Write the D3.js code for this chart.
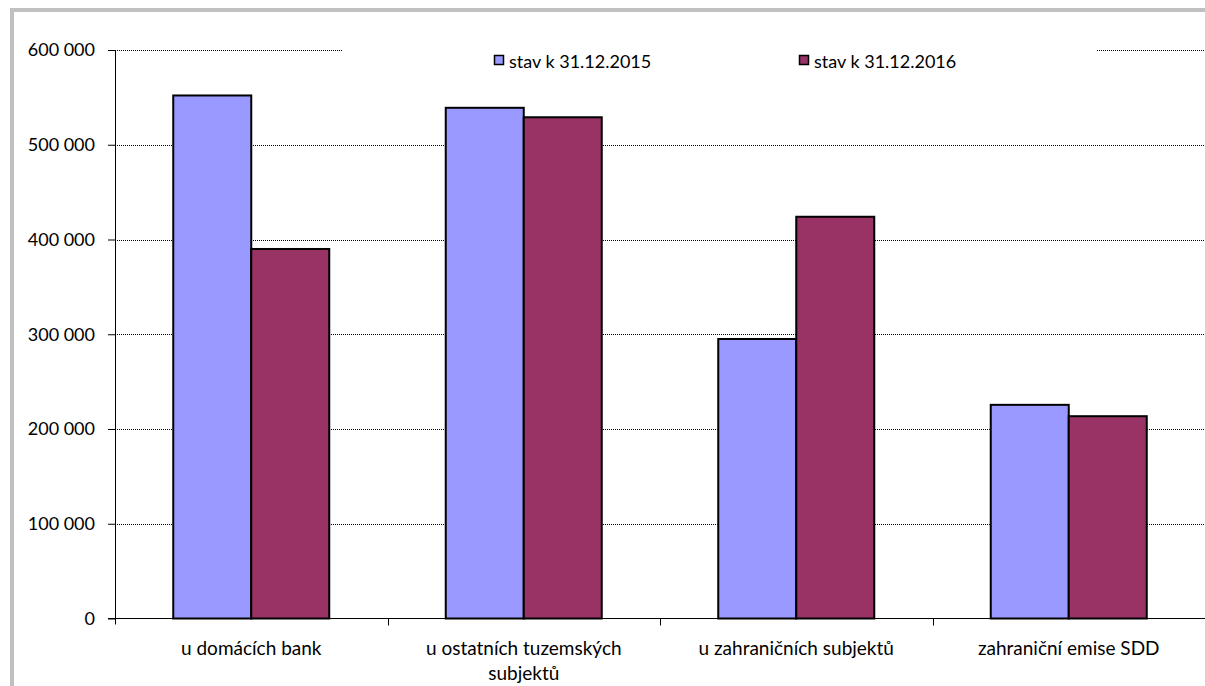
<!DOCTYPE html>
<html>
<head>
<meta charset="utf-8">
<script src="https://cdn.jsdelivr.net/npm/d3@7"></script>
<style>
  html, body { margin: 0; padding: 0; background: #fff; }
  svg { display: block; }
  text { font-family: Lato, "Noto Sans", sans-serif; fill: #000; }
</style>
</head>
<body>
<svg id="chart" width="1205" height="686"></svg>
<script>
// ---- data ----
const categories = ["u domácích bank", "u ostatních tuzemských subjektů", "u zahraničních subjektů", "zahraniční emise SDD"];
const seriesNames = ["stav k 31.12.2015", "stav k 31.12.2016"];
const values2015 = [552000, 539000, 295000, 225500];
const values2016 = [390000, 529000, 424000, 213500];
const yTicks = [0, 100000, 200000, 300000, 400000, 500000, 600000];
const seriesColors = ["#9999FF", "#993366"];

// ---- layout ----
const W = 1205, H = 686;
const plot = { left: 115, right: 1205, top: 50, bottom: 618.5 };
const fontSize = 19;
const numFontSize = 18;

const svg = d3.select("#chart");

// frame
svg.append("rect")
  .attr("x", 12).attr("y", 10)
  .attr("width", W + 50).attr("height", H + 50)
  .attr("fill", "none").attr("stroke", "#c0c0c0").attr("stroke-width", 4);

const rows = categories.map((c, i) => ({ cat: c, vals: [values2015[i], values2016[i]] }));

const p = 0.4275;
const x0 = d3.scaleBand().domain(categories).range([plot.left, plot.right])
  .paddingInner(p).paddingOuter(p / 2);
const x1 = d3.scaleBand().domain([0, 1]).range([0, x0.bandwidth()]).padding(0);
const y = d3.scaleLinear().domain([0, 600000]).range([plot.bottom, plot.top]);

const locale = d3.formatLocale({ decimal: ",", thousands: "\u00a0", grouping: [3], currency: ["", ""] });
const fmt = locale.format(",d");

// gridlines
svg.append("g").selectAll("line")
  .data(yTicks.filter(t => t > 0))
  .join("line")
  .attr("x1", plot.left).attr("x2", plot.right)
  .attr("y1", d => Math.round(y(d)) + 0.5).attr("y2", d => Math.round(y(d)) + 0.5)
  .attr("stroke", "#000").attr("stroke-width", 1).attr("stroke-dasharray", "1,1");

// legend background (covers top gridline in middle)
const legend = svg.append("g");
legend.append("rect")
  .attr("x", 342).attr("y", 36).attr("width", 1097 - 342).attr("height", 48)
  .attr("fill", "#fff");
const legendX = [494, 799];
seriesNames.forEach((name, i) => {
  legend.append("rect")
    .attr("x", legendX[i] + 0.5).attr("y", 56 - 0.5)
    .attr("width", 9).attr("height", 9)
    .attr("fill", seriesColors[i]).attr("stroke", "#000").attr("stroke-width", 1.5);
  legend.append("text")
    .attr("x", legendX[i] + 15).attr("y", 60.5)
    .attr("dominant-baseline", "central")
    .attr("font-size", numFontSize)
    .text(name);
});

// bars
const groups = svg.append("g").selectAll("g")
  .data(rows).join("g")
  .attr("transform", d => `translate(${x0(d.cat)},0)`);
groups.selectAll("rect")
  .data(d => d.vals.map((v, i) => ({ v, i })))
  .join("rect")
  .attr("x", d => x1(d.i))
  .attr("y", d => y(d.v))
  .attr("width", x1.bandwidth())
  .attr("height", d => y(0) - y(d.v))
  .attr("fill", d => seriesColors[d.i])
  .attr("stroke", "#000").attr("stroke-width", 2);

// y axis
const yAxis = d3.axisLeft(y).tickValues(yTicks).tickFormat(fmt).tickSize(7).tickPadding(13);
const gy = svg.append("g").attr("transform", `translate(${plot.left},0)`).call(yAxis);
gy.select(".domain").attr("d", `M0.5,${plot.top}V${plot.bottom + 6}`).attr("stroke", "#000");
gy.selectAll(".tick line").attr("stroke", "#000");
gy.selectAll(".tick text").attr("font-size", numFontSize).attr("font-family", "Lato, 'Noto Sans', sans-serif").attr("fill", "#000");

// x axis line + boundary ticks
const step = x0.step();
const bounds = d3.range(categories.length + 1).map(i => plot.left + i * step);
svg.append("line")
  .attr("x1", plot.left - 7).attr("x2", plot.right)
  .attr("y1", plot.bottom).attr("y2", plot.bottom)
  .attr("stroke", "#000").attr("stroke-width", 1);
svg.append("g").selectAll("line")
  .data(bounds.slice(1, -1))
  .join("line")
  .attr("x1", d => Math.round(d) + 0.5).attr("x2", d => Math.round(d) + 0.5)
  .attr("y1", plot.bottom).attr("y2", plot.bottom + 7)
  .attr("stroke", "#000");

// x labels with wrapping
const xl = svg.append("g");
categories.forEach(c => {
  const cx = x0(c) + x0.bandwidth() / 2;
  const t = xl.append("text")
    .attr("x", cx).attr("y", 646.5)
    .attr("text-anchor", "middle")
    .attr("dominant-baseline", "central")
    .attr("font-size", fontSize);
  const words = c.split(" ");
  let line = [];
  let lines = [];
  const probe = t.append("tspan");
  words.forEach(w => {
    const test = line.concat([w]).join(" ");
    probe.text(test);
    if (probe.node().getComputedTextLength() > 235 && line.length) {
      lines.push(line.join(" "));
      line = [w];
    } else {
      line.push(w);
    }
  });
  lines.push(line.join(" "));
  probe.remove();
  lines.forEach((ln, k) => {
    t.append("tspan").attr("x", cx).attr("dy", k === 0 ? 0 : 25).text(ln);
  });
});
</script>
</body>
</html>
